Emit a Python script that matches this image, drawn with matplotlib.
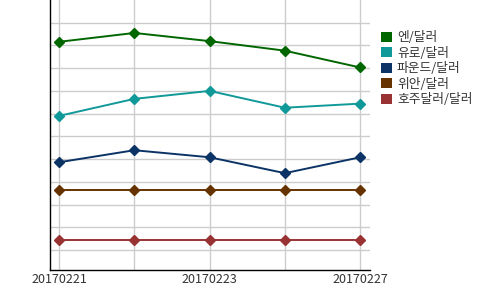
import matplotlib
matplotlib.use("Agg")
import matplotlib.pyplot as plt
from matplotlib.patches import Patch

plt.rcParams['font.family'] = ['Noto Sans CJK KR', 'DejaVu Sans']

dates = ["20170221", "20170222", "20170223", "20170224", "20170227"]
tick_labels = ["20170221", "", "20170223", "", "20170227"]
series_names = ["엔/달러", "유로/달러", "파운드/달러", "위안/달러", "호주달러/달러"]
yen = [10.16, 10.55, 10.19, 9.77, 9.03]
euro = [6.90, 7.65, 8.00, 7.26, 7.44]
pound = [4.86, 5.39, 5.08, 4.38, 5.08]
yuan = [3.64, 3.64, 3.64, 3.64, 3.64]
aud = [1.43, 1.43, 1.43, 1.43, 1.43]
colors = ["#006600", "#119999", "#0b3366", "#663300", "#993333"]

fig = plt.figure(figsize=(5, 2.9), dpi=100)
ax = fig.add_axes([0.1, 0.069, 0.64, 0.931])
x = list(range(len(dates)))
for vals, c in zip([yen, euro, pound, yuan, aud], colors):
    ax.plot(x, vals, color=c, lw=1.4, marker='D', markersize=5.5, zorder=3)

ax.set_xlim(-0.12, 4.13)
ax.set_ylim(0.12, 12.0)
ax.set_yticks(range(1, 12))
ax.set_yticklabels([])
ax.set_xticks(x)
ax.set_xticklabels(tick_labels, fontsize=9, color="#333333")
ax.tick_params(length=0, pad=2)
ax.grid(True, color="#cccccc", lw=1)
ax.set_axisbelow(True)
for s in ["top", "right"]:
    ax.spines[s].set_visible(False)
for s in ["left", "bottom"]:
    ax.spines[s].set_color("black")
    ax.spines[s].set_linewidth(1)

handles = [Patch(facecolor=c, edgecolor='none') for c in colors]
leg = fig.legend(handles, series_names, loc="upper left", bbox_to_anchor=(0.762, 0.893),
                 frameon=False, fontsize=9.2, handlelength=0.85, handleheight=0.85,
                 handletextpad=0.4, labelspacing=0.2, borderpad=0, borderaxespad=0)
for t in leg.get_texts():
    t.set_color("#333333")

fig.savefig("out.png", dpi=100)
